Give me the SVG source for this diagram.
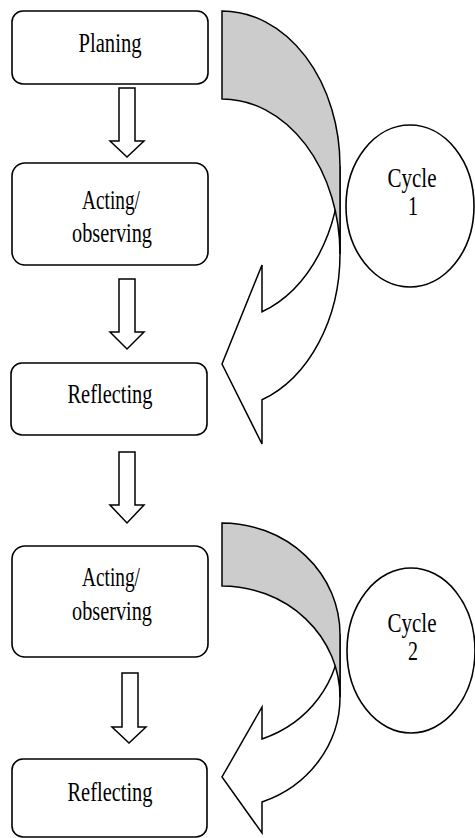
<svg xmlns="http://www.w3.org/2000/svg" width="475" height="838" viewBox="0 0 475 838">
<style>
.box{fill:#fff;stroke:#000;stroke-width:1.6}
.ell{fill:#fff;stroke:#000;stroke-width:1.6}
.lbl{font-family:"Liberation Serif","Times New Roman",serif;font-size:27px;fill:#000;text-anchor:middle}
.dn{fill:#fff;stroke:#000;stroke-width:1.5;stroke-linejoin:miter}
.front{fill:#fff;stroke:#000;stroke-width:1.5;stroke-linejoin:miter}
.back{fill:#cccccc;stroke:#000;stroke-width:1.5}
</style>
<rect width="475" height="838" fill="#fff"/>
<g id="connectors">
  <path class="dn" d="M119,88 H135 V141 H144 L127,157 L110,141 H119 Z"/>
  <path class="dn" d="M119,279 H135 V332 H144 L127,349 L110,332 H119 Z"/>
  <path class="dn" d="M119,452 H135 V505 H144 L127,523 L110,505 H119 Z"/>
  <path class="dn" d="M122,673 H138 V727 H146 L129,743 L112,727 H122 Z"/>
  <g id="curve1">
    <path class="front" d="M340,254 A118,155 0 0 1 262,399.8 L262,444 L222,364 L262,265 L262,311.8 A118,155 0 0 0 340,166 Z"/>
    <path class="back" d="M222,11 A118,155 0 0 1 340,166 L340,254 A118,155 0 0 0 222,99 Z"/>
  </g>
  <g id="curve2">
    <path class="front" d="M340,697.3 A118,111.3 0 0 1 262,802 L262,833 L222,777 L262,707 L262,739 A118,111.3 0 0 0 340,634.3 Z"/>
    <path class="back" d="M222,523 A118,111.3 0 0 1 340,634.3 L340,697.3 A118,111.3 0 0 0 222,586 Z"/>
  </g>
</g>
<g id="planing">
  <rect class="box" x="12" y="11" width="196" height="73" rx="11"/>
  <text class="lbl" x="110" y="52" textLength="63" lengthAdjust="spacingAndGlyphs">Planing</text>
</g>
<g id="acting1">
  <rect class="box" x="12" y="163" width="196" height="102" rx="13"/>
  <text class="lbl" x="111" y="209" textLength="58" lengthAdjust="spacingAndGlyphs">Acting/</text>
  <text class="lbl" x="112" y="242" textLength="80" lengthAdjust="spacingAndGlyphs">observing</text>
</g>
<g id="reflecting1">
  <rect class="box" x="11" y="363" width="196" height="72" rx="11"/>
  <text class="lbl" x="110" y="403" textLength="85" lengthAdjust="spacingAndGlyphs">Reflecting</text>
</g>
<g id="acting2">
  <rect class="box" x="12" y="546" width="196" height="111" rx="13"/>
  <text class="lbl" x="111" y="586" textLength="58" lengthAdjust="spacingAndGlyphs">Acting/</text>
  <text class="lbl" x="112" y="620" textLength="80" lengthAdjust="spacingAndGlyphs">observing</text>
</g>
<g id="reflecting2">
  <rect class="box" x="12" y="759" width="195" height="78" rx="11"/>
  <text class="lbl" x="110" y="801" textLength="85" lengthAdjust="spacingAndGlyphs">Reflecting</text>
</g>
<g id="cycle1">
  <ellipse class="ell" cx="410" cy="206" rx="64" ry="81"/>
  <text class="lbl" x="412" y="187" textLength="49" lengthAdjust="spacingAndGlyphs">Cycle</text>
  <text class="lbl" x="413" y="215" textLength="10" lengthAdjust="spacingAndGlyphs">1</text>
</g>
<g id="cycle2">
  <ellipse class="ell" cx="411" cy="650.5" rx="64" ry="82.5"/>
  <text class="lbl" x="412" y="632" textLength="49" lengthAdjust="spacingAndGlyphs">Cycle</text>
  <text class="lbl" x="413" y="660" textLength="10" lengthAdjust="spacingAndGlyphs">2</text>
</g>
</svg>
